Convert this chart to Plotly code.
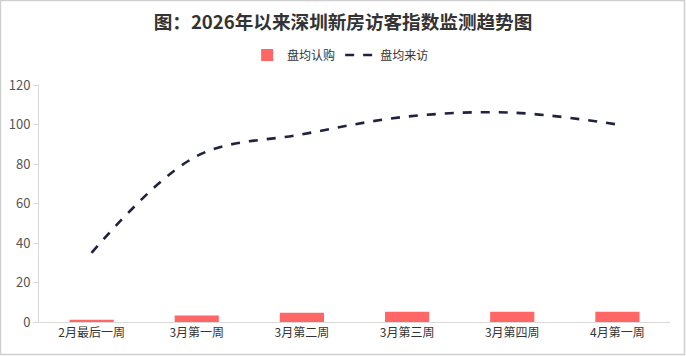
import plotly.graph_objects as go

categories = ["2月最后一周", "3月第一周", "3月第二周", "3月第三周", "3月第四周", "4月第一周"]
subscriptions = [1.2, 3.3, 4.7, 5.2, 5.2, 5.2]
visits = [35, 84, 95, 104, 106, 100]
y_ticks = [0, 20, 40, 60, 80, 100, 120]

FONT = "Microsoft YaHei, Noto Sans CJK SC, sans-serif"

fig = go.Figure()
fig.add_trace(go.Bar(
    x=categories, y=subscriptions, name="盘均认购",
    marker=dict(color="#FF6666", line=dict(width=0)),
    width=0.42,
))
fig.add_trace(go.Scatter(
    x=categories, y=visits, name="盘均来访", mode="lines",
    line=dict(color="#1F2240", width=2.6, dash="dash", shape="spline", smoothing=1.0),
))

L, R, T, B = 39, 16, 85, 34
W, H = 686, 356
pw, ph = W - L - R, H - T - B

fig.update_layout(
    width=W, height=H,
    margin=dict(l=L, r=R, t=T, b=B, autoexpand=False),
    paper_bgcolor="white", plot_bgcolor="white",
    font=dict(family=FONT, color="#666666", size=12),
    title=dict(text="<b>图：2026年以来深圳新房访客指数监测趋势图</b>",
               x=0.5, xanchor="center", y=1 - 22 / H, yanchor="middle",
               font=dict(size=18.6, color="#333333", family=FONT)),
    showlegend=True,
    legend=dict(orientation="h", x=0.478, xanchor="center", y=1 + (T - 55) / ph, yanchor="middle",
                font=dict(size=12, color="#333333"), itemwidth=30, traceorder="normal",
                bgcolor="rgba(0,0,0,0)"),
    xaxis=dict(showgrid=False, showline=True, linecolor="#D9D9D9", linewidth=1,
               ticks="", tickfont=dict(size=12, color="#333333"), zeroline=False),
    yaxis=dict(range=[0, 120], tickvals=y_ticks, showgrid=False, showline=True,
               linecolor="#D9D9D9", linewidth=1, ticks="outside", ticklen=5,
               tickcolor="#D9D9D9", tickfont=dict(size=13, color="#555555"), zeroline=False),
    shapes=[dict(type="rect", xref="paper", yref="paper",
                 x0=-(L - 0.5) / pw, x1=1 + (R - 1.5) / pw,
                 y0=-(B - 1.5) / ph, y1=1 + (T - 0.5) / ph,
                 line=dict(color="#CFCFCF", width=1.5), fillcolor="rgba(0,0,0,0)", layer="below")],
)

fig.write_html("out.html", config={"displayModeBar": False},
               post_script="document.body.style.margin='0';document.body.style.padding='0';")
